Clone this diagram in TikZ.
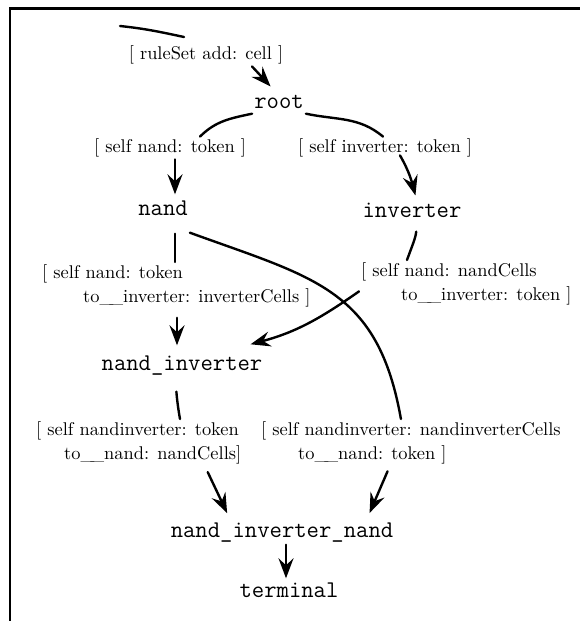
\documentclass[tikz,border=0pt]{standalone}
\usepackage{fontspec}
\usetikzlibrary{arrows.meta, calc, positioning}

\newfontfamily\fuenteRegla{lmroman10-regular}[Extension=.otf]
\newcommand{\subrayado}{\_\kern-4pt\_}

\begin{document}
\begin{tikzpicture}[x=1pt, y=-1pt,
    nodoEstado/.style={font=\fontsize{24}{28}\selectfont\ttfamily, inner sep=2pt, text height=14pt, text depth=3pt},
    etiquetaRegla/.style={font=\fuenteRegla\fontsize{18.4}{24}\selectfont, inner sep=2pt, align=left},
    trazo/.style={line width=2.4pt, line cap=round},
    flecha/.style={trazo, -{Stealth[length=20pt, width=15pt, inset=7pt]}}]
    \useasboundingbox (0,0) rectangle (580,621);

    % 1. MARCO
    \draw[line width=2.6pt] (10,621) -- (10,8.5) -- (580,8.5);

    % 2. ESTADOS
    \node[nodoEstado] (root) at (279,103) {root};
    \node[nodoEstado] (nand) at (163,210) {nand};
    \node[nodoEstado] (inverter) at (412,212) {inverter};
    \node[nodoEstado] (nandInv) at (182,365) {nand\_inverter};
    \node[nodoEstado] (nandInvNand) at (282,532) {nand\_inverter\_nand};
    \node[nodoEstado] (terminal) at (289,592) {terminal};

    % 3. REGLAS
    \node[etiquetaRegla] (reglaAdd) at (206,55) {[ ruleSet add: cell ]};
    \node[etiquetaRegla] (reglaNand) at (170,148) {[ self nand: token ]};
    \node[etiquetaRegla] (reglaInv) at (385,148) {[ self inverter: token ]};
    \node[etiquetaRegla, anchor=north west] (reglaNandInv) at (40,262)
        {[ self nand: token\\\hspace*{41pt}to\subrayado inverter: inverterCells ]};
    \node[etiquetaRegla, anchor=north west] (reglaInvNand) at (359,260)
        {[ self nand: nandCells\\\hspace*{40pt}to\subrayado inverter: token ]};
    \node[etiquetaRegla, anchor=north west] (reglaNiNin) at (34,419)
        {[ self nandinverter: token\\\hspace*{28pt}to\subrayado nand: nandCells]};
    \node[etiquetaRegla, anchor=north west] (reglaNNin) at (259,419)
        {[ self nandinverter: nandinverterCells\\\hspace*{37pt}to\subrayado nand: token ]};

    % 4. TRANSICIONES
    % Entrada (trazo suelto arriba)
    \coordinate (entrada) at (120,26);
    \coordinate (entradaFin) at (184,37);
    \draw[trazo] (entrada) to[out=-6, in=168] (entradaFin);
    \draw[flecha, shorten >=8pt] ([xshift=46pt]reglaAdd.south) -- ([xshift=-3pt]root.north);

    % root -> nand, root -> inverter
    \draw[trazo] (root.south west) to[out=192, in=45] ([xshift=30pt]reglaNand.north);
    \draw[flecha, shorten >=5pt] ([xshift=5pt]reglaNand.south) -- ([xshift=12pt]nand.north);
    \draw[trazo] (root.south east) to[out=-12, in=140] ([xshift=-2pt]reglaInv.north);
    \draw[flecha, shorten >=6pt] ([xshift=15pt,yshift=4pt]reglaInv.south) to[out=-60, in=105] ([xshift=5pt]inverter.north);

    % nand -> nand_inverter
    \draw[trazo, shorten <=13pt] ([xshift=12pt]nand.south) -- ([xshift=12pt]nand.south |- reglaNandInv.north);
    \draw[flecha, shorten <=9pt, shorten >=9pt] ([xshift=-5pt]nandInv.north |- reglaNandInv.south) -- ([xshift=-5pt]nandInv.north);

    % inverter -> nand_inverter
    \draw[trazo, shorten <=9pt] ([xshift=5pt]inverter.south) to[out=-95, in=70] ([xshift=-5pt]inverter.south |- reglaInvNand.north);
    \draw[flecha] ([yshift=-8pt]reglaInvNand.west) to[out=215, in=15] ([xshift=-14pt,yshift=10pt]nandInv.north east);

    % nand -> nand_inverter_nand (salto largo)
    \draw[trazo] ([yshift=-12pt]nand.south east) to[out=-20, in=100, looseness=1.2] ([xshift=-10pt]reglaNNin.north);
    \draw[flecha, shorten <=6pt, shorten >=9pt] ([xshift=-21pt]reglaNNin.south) -- ([xshift=84pt]nandInvNand.north);

    % nand_inverter -> nand_inverter_nand
    \draw[trazo, shorten <=16pt] ([xshift=-7pt]nandInv.south) to[out=-85, in=100] ([xshift=-2pt]nandInv.south |- reglaNiNin.north);
    \draw[flecha, shorten <=7pt, shorten >=9pt] ([xshift=66pt]reglaNiNin.south) -- ([xshift=-51pt]nandInvNand.north);

    % nand_inverter_nand -> terminal
    \draw[flecha, shorten <=2pt, shorten >=3pt] ([xshift=4pt]nandInvNand.south) -- ([xshift=4pt]nandInvNand.south |- terminal.north);
\end{tikzpicture}
\end{document}
